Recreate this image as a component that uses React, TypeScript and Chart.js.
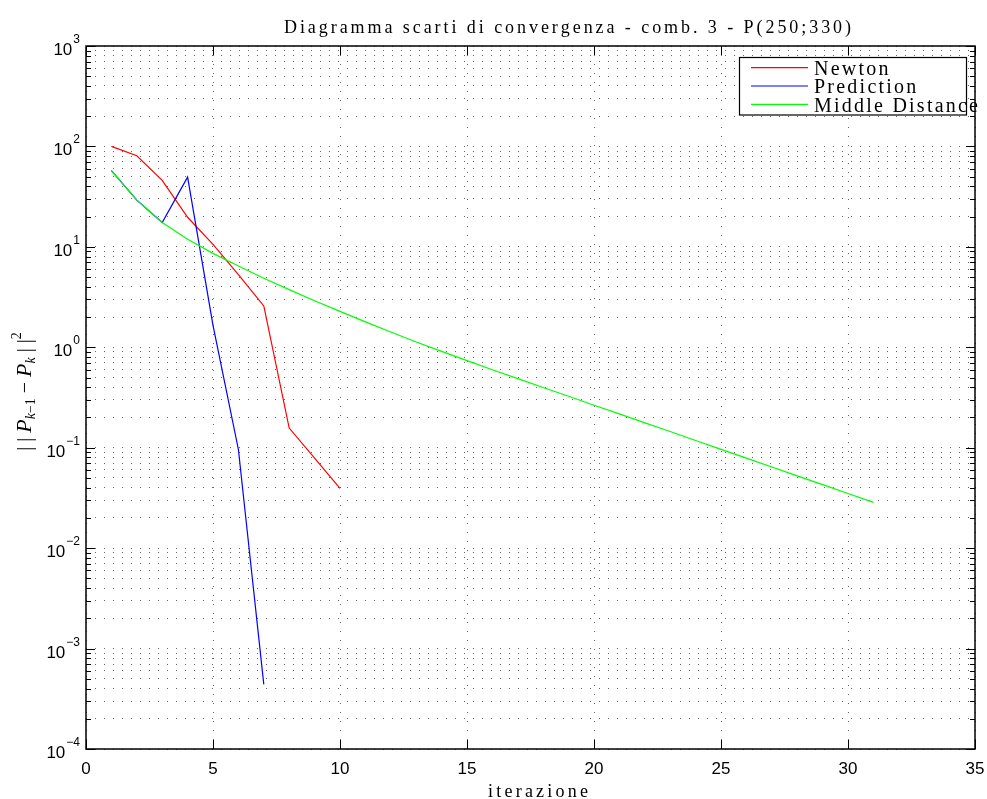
import React, { useEffect, useRef } from 'react';
import { Chart, registerables } from 'chart.js';

Chart.register(...registerables);

const TITLE = 'Diagramma scarti di convergenza - comb. 3 - P(250;330)';
const X_LABEL = 'iterazione';
const SERIES_NAMES = ['Newton', 'Prediction', 'Middle Distance'];
const SERIES_COLORS = ['#ff0000', '#0000ff', '#00ff00'];

const newtonIter = [1, 2, 3, 4, 5, 6, 7, 8, 9, 10];
const newtonValues = [100, 80.8, 46, 19.7, 10.6, 5.3, 2.58, 0.157, 0.0787, 0.0394];

const predictionIter = [1, 2, 3, 4, 5, 6, 7];
const predictionValues = [57.3, 29.2, 17.5, 49.5, 1.65, 0.096, 0.00044];

const middleIter = [
  1, 2, 3, 4, 5, 6, 7, 8, 9, 10, 11, 12, 13, 14, 15, 16,
  17, 18, 19, 20, 21, 22, 23, 24, 25, 26, 27, 28, 29, 30, 31,
];
const middleValues = [
  57.3, 29.2, 17.5, 11.9, 8.61, 6.46, 4.86, 3.75, 2.91, 2.28, 1.79, 1.42, 1.13,
  0.91, 0.736, 0.598, 0.488, 0.398, 0.325, 0.265, 0.217, 0.177, 0.145, 0.118,
  0.0964, 0.0787, 0.0643, 0.0525, 0.0429, 0.035, 0.0286,
];

const xTicks = [0, 5, 10, 15, 20, 25, 30, 35];
const yDecades = [-4, -3, -2, -1, 0, 1, 2, 3];

const SANS = '"Liberation Sans", Arial, Helvetica, sans-serif';
const SERIF = '"Liberation Serif", "Times New Roman", serif';

function drawSpaced(
  ctx: CanvasRenderingContext2D,
  text: string,
  x: number,
  y: number,
  targetWidth: number | null,
  spacingIn: number,
  align: 'left' | 'center'
) {
  const chars = [...text];
  const widths = chars.map((c) => ctx.measureText(c).width);
  const sum = widths.reduce((a, b) => a + b, 0);
  const spacing = targetWidth != null ? (targetWidth - sum) / (chars.length - 1) : spacingIn;
  const total = sum + spacing * (chars.length - 1);
  let cx = align === 'center' ? x - total / 2 : x;
  ctx.textAlign = 'left';
  chars.forEach((c, i) => {
    ctx.fillText(c, cx, y);
    cx += widths[i] + spacing;
  });
  return spacing;
}

const decorPlugin = {
  id: 'decor',
  afterDraw(chart: any) {
    const ctx: CanvasRenderingContext2D = chart.ctx;
    const { left, right, top, bottom } = chart.chartArea;
    const xs = chart.scales.x;
    const ys = chart.scales.y;
    ctx.save();
    ctx.fillStyle = '#000';
    ctx.strokeStyle = '#000';

    // tick marks (inward)
    ctx.lineWidth = 1;
    ctx.beginPath();
    xTicks.forEach((v) => {
      const px = Math.round(xs.getPixelForValue(v)) + 0.5;
      ctx.moveTo(px, bottom);
      ctx.lineTo(px, bottom - 9);
      ctx.moveTo(px, top);
      ctx.lineTo(px, top + 9);
    });
    yDecades.forEach((d) => {
      for (let m = 1; m <= 9; m++) {
        if (d === 3 && m > 1) break;
        const py = Math.round(ys.getPixelForValue(m * Math.pow(10, d))) + 0.5;
        const len = m === 1 ? 9 : 5;
        ctx.moveTo(left, py);
        ctx.lineTo(left + len, py);
        ctx.moveTo(right, py);
        ctx.lineTo(right - len, py);
      }
    });
    ctx.stroke();

    // frame
    ctx.lineWidth = 1.5;
    ctx.strokeRect(left, top, right - left, bottom - top);

    // x tick labels
    ctx.font = '17px ' + SANS;
    ctx.textAlign = 'center';
    ctx.textBaseline = 'alphabetic';
    xTicks.forEach((v) => {
      ctx.fillText(String(v), xs.getPixelForValue(v), 774);
    });

    // y tick labels 10^n
    yDecades.forEach((d) => {
      const py = ys.getPixelForValue(Math.pow(10, d));
      const exp = d < 0 ? '\u2212' + String(-d) : String(d);
      ctx.font = '17px ' + SANS;
      const wBase = ctx.measureText('10').width;
      ctx.font = '12px ' + SANS;
      const wExp = ctx.measureText(exp).width;
      const rightEdge = 80;
      const start = rightEdge - wExp - 1 - wBase;
      ctx.textAlign = 'left';
      ctx.font = '17px ' + SANS;
      ctx.fillText('10', start, py + 9);
      ctx.font = '12px ' + SANS;
      ctx.fillText(exp, start + wBase + 1, py - 3);
    });

    // title
    ctx.font = '18px ' + SERIF;
    drawSpaced(ctx, TITLE, 567.5, 33, 567, 0, 'center');

    // x label
    ctx.font = '18px ' + SERIF;
    drawSpaced(ctx, X_LABEL, 538, 797, 100, 0, 'center');

    // y label (rotated, math-like)
    const parts = [
      { t: '| |', f: '20px ' + SERIF, dy: 0 },
      { t: ' ', f: '20px ' + SERIF, dy: 0 },
      { t: 'P', f: 'italic 22px ' + SERIF, dy: 0 },
      { t: 'k', f: 'italic 14px ' + SERIF, dy: 4 },
      { t: '\u22121', f: '14px ' + SERIF, dy: 4 },
      { t: ' \u2212 ', f: '20px ' + SERIF, dy: 0 },
      { t: 'P', f: 'italic 22px ' + SERIF, dy: 0 },
      { t: 'k', f: 'italic 14px ' + SERIF, dy: 4 },
      { t: ' | |', f: '20px ' + SERIF, dy: 0 },
      { t: '2', f: '14px ' + SERIF, dy: -10 },
    ];
    let total = 0;
    const ws = parts.map((p) => {
      ctx.font = p.f;
      const w = ctx.measureText(p.t).width;
      total += w;
      return w;
    });
    ctx.save();
    ctx.translate(31, 391.5);
    ctx.rotate(-Math.PI / 2);
    ctx.textAlign = 'left';
    let lx = -total / 2;
    parts.forEach((p, i) => {
      ctx.font = p.f;
      ctx.fillText(p.t, lx, p.dy);
      lx += ws[i];
    });
    ctx.restore();

    // legend
    const bx = 739.5, by = 57.5, bw = 227, bh = 57.5;
    ctx.fillStyle = '#fff';
    ctx.fillRect(bx, by, bw, bh);
    ctx.strokeStyle = '#000';
    ctx.lineWidth = 1.2;
    ctx.strokeRect(bx, by, bw, bh);
    ctx.font = '20px ' + SERIF;
    const mdChars = [...SERIES_NAMES[2]];
    const mdSum = mdChars.reduce((a, c) => a + ctx.measureText(c).width, 0);
    const spacing = (164 - mdSum) / (mdChars.length - 1);
    const rowsY = [67.7, 86, 104.3];
    SERIES_NAMES.forEach((name, i) => {
      ctx.strokeStyle = SERIES_COLORS[i];
      ctx.lineWidth = 1.2;
      ctx.beginPath();
      ctx.moveTo(751, rowsY[i]);
      ctx.lineTo(808, rowsY[i]);
      ctx.stroke();
      ctx.fillStyle = '#000';
      ctx.font = '20px ' + SERIF;
      drawSpaced(ctx, name, 814, rowsY[i] + 7.3, null, spacing, 'left');
    });

    ctx.restore();
  },
};

export default function App() {
  const ref = useRef<HTMLCanvasElement | null>(null);

  useEffect(() => {
    document.body.style.margin = '0';
    const canvas = ref.current;
    if (!canvas) return;
    const mk = (xsArr: number[], ysArr: number[]) => xsArr.map((x, i) => ({ x, y: ysArr[i] }));
    const yTickValues: number[] = [];
    yDecades.forEach((d) => {
      for (let m = 1; m <= 9; m++) {
        if (d === 3 && m > 1) break;
        yTickValues.push(m * Math.pow(10, d));
      }
    });
    const chart = new Chart(canvas, {
      type: 'line',
      data: {
        datasets: [
          {
            label: SERIES_NAMES[0],
            data: mk(newtonIter, newtonValues),
            borderColor: SERIES_COLORS[0],
            borderWidth: 1.2,
            pointRadius: 0,
            fill: false,
            tension: 0,
            order: 2,
          },
          {
            label: SERIES_NAMES[1],
            data: mk(predictionIter, predictionValues),
            borderColor: SERIES_COLORS[1],
            borderWidth: 1.2,
            pointRadius: 0,
            fill: false,
            tension: 0,
            order: 1,
          },
          {
            label: SERIES_NAMES[2],
            data: mk(middleIter, middleValues),
            borderColor: SERIES_COLORS[2],
            borderWidth: 1.2,
            pointRadius: 0,
            fill: false,
            tension: 0,
            order: 0,
          },
        ],
      },
      options: {
        responsive: false,
        animation: false,
        devicePixelRatio: 1,
        layout: { padding: { left: 86, top: 46, right: 12, bottom: 50 } },
        plugins: {
          legend: { display: false },
          title: { display: false },
          tooltip: { enabled: false },
        },
        events: [],
        scales: {
          x: {
            type: 'linear',
            min: 0,
            max: 35,
            afterBuildTicks: (s: any) => {
              s.ticks = xTicks.map((v) => ({ value: v }));
            },
            afterFit: (s: any) => {
              s.height = 0;
            },
            ticks: { display: false },
            grid: {
              drawTicks: false,
              color: 'rgba(0,0,0,0.6)',
              lineWidth: 1,
            },
            border: { display: false, dash: [1, 8] },
          },
          y: {
            type: 'logarithmic',
            min: 1e-4,
            max: 1e3,
            afterBuildTicks: (s: any) => {
              s.ticks = yTickValues.map((v) => ({ value: v }));
            },
            afterFit: (s: any) => {
              s.width = 0;
            },
            ticks: { display: false },
            grid: {
              drawTicks: false,
              color: 'rgba(0,0,0,0.6)',
              lineWidth: 1,
            },
            border: { display: false, dash: [1, 8] },
          },
        },
      },
      plugins: [decorPlugin],
    } as any);
    return () => chart.destroy();
  }, []);

  return (
    <div style={{ width: 987, height: 799, background: '#fff' }}>
      <canvas ref={ref} width={987} height={799} style={{ display: 'block' }} />
    </div>
  );
}
